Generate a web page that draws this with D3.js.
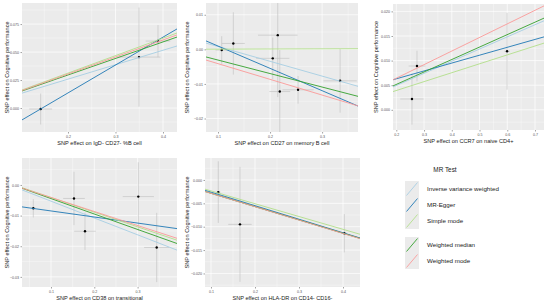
<!DOCTYPE html>
<html lang="en">
<head>
  <meta charset="UTF-8">
  <title>MR scatter plots</title>
  <style>
    body { margin: 0; background: #fff; }
    text { font-family: 'Liberation Sans', Arial, sans-serif; }
  </style>
</head>
<body>
  <svg id="svg" width="546" height="302"></svg>

  <script src="https://d3js.org/d3.v7.min.js"></script>
  <script>
    const methods = ['Inverse variance weighted', 'MR-Egger', 'Simple mode', 'Weighted median', 'Weighted mode']
    const methodColors = ['#a6cee3', '#1f78b4', '#b2df8a', '#33a02c', '#fb9a99']
    const yTitle = 'SNP effect on Cognitive performance'

    // SNP estimates: [beta exposure, beta outcome, se exposure, se outcome]
    const snpIgD = [[0.1425, -0.0009, 0.024, 0.0138], [0.3495, 0.0455, 0.045, 0.0442], [0.3895, 0.0598, 0.026, 0.0143]]
    const snpCD27 = [[0.1071, -0.0002, 0.012, 0.004], [0.1294, 0.0017, 0.022, 0.009], [0.2052, -0.0026, 0.032, 0.006],
      [0.2148, 0.0041, 0.038, 0.0179], [0.2187, -0.0122, 0.02, 0.012], [0.2538, -0.0117, 0.03, 0.004], [0.3346, -0.0091, 0.032, 0.0092]]
    const snpCCR7 = [[0.2745, 0.0089, 0.03, 0.0031], [0.2565, 0.0022, 0.042, 0.0052], [0.5993, 0.0119, 0.01, 0.0078]]
    const snpCD38 = [[0.0591, -0.0076, 0.005, 0.003], [0.1531, -0.0044, 0.025, 0.0087], [0.1785, -0.0151, 0.025, 0.0061],
      [0.3016, -0.0038, 0.036, 0.0112], [0.3441, -0.0204, 0.029, 0.0113]]
    const snpHLA = [[0.1166, -0.0026, 0.005, 0.0066], [0.1659, -0.0095, 0.0266, 0.0123], [0.403, -0.0114, 0.005, 0.0041]]

    // fitted lines per method (same order as methods): [slope, intercept]
    const fitIgD = [[0.129, 0], [0.249, -0.0363], [0.156, 0], [0.1476, 0], [0.152, 0]]
    const fitCD27 = [[-0.0428, 0.0051], [-0.0645, 0.0074], [0.0005, 0], [-0.039, 0.0008], [-0.0454, 0.0004]]
    const fitCCR7 = [[0.0247, 0], [0.016, 0.0031], [0.0181, 0.0003], [0.0253, 0.0001], [0.0276, 0.0009]]
    const fitCD38 = [[-0.0549, 0.0002], [-0.0198, -0.0065], [-0.0479, 0.0007], [-0.0504, 0.0006], [-0.0458, 0.0005]]
    const fitHLA = [[-0.0284, 0], [-0.029, 0.0003], [-0.0274, 0.0004], [-0.0285, 0], [-0.0286, 0]]

    const xTicksIgD = [0.2, 0.3, 0.4], yTicksIgD = [0, 0.025, 0.05, 0.075]
    const xTicksCD27 = [0.1, 0.2, 0.3], yTicksCD27 = [-0.02, -0.01, 0, 0.01]
    const xTicksCCR7 = [0.2, 0.3, 0.4, 0.5, 0.6, 0.7], yTicksCCR7 = [0, 0.005, 0.01, 0.015, 0.02]
    const xTicksCD38 = [0.1, 0.2, 0.3], yTicksCD38 = [-0.03, -0.02, -0.01, 0]
    const xTicksHLA = [0.1, 0.2, 0.3, 0.4], yTicksHLA = [-0.02, -0.015, -0.01, -0.005, 0]

    const panels = [
      { title: 'SNP effect on IgD- CD27- %B cell', snp: snpIgD, fit: fitIgD, xt: xTicksIgD, yt: yTicksIgD, xf: '.1f', yf: '.3f',
        xd: [0.1032, 0.4295], yd: [-0.0214, 0.0938], box: [22, 177, 3, 132], ytx: 7 },
      { title: 'SNP effect on CD27 on memory B cell', snp: snpCD27, fit: fitCD27, xt: xTicksCD27, yt: yTicksCD27, xf: '.1f', yf: '.2f',
        xd: [0.0769, 0.369], yd: [-0.0239, 0.0134], box: [206, 358, 3, 132], ytx: 187 },
      { title: 'SNP effect on CCR7 on naive CD4+', snp: snpCCR7, fit: fitCCR7, xt: xTicksCCR7, yt: yTicksCCR7, xf: '.1f', yf: '.3f',
        xd: [0.1881, 0.7324], yd: [-0.0041, 0.0215], box: [393, 544, 4, 130], ytx: 376 },
      { title: 'SNP effect on CD38 on transitional', snp: snpCD38, fit: fitCD38, xt: xTicksCD38, yt: yTicksCD38, xf: '.1f', yf: '.2f',
        xd: [0.033, 0.391], yd: [-0.0333, 0.0088], box: [22, 177, 158, 287], ytx: 7 },
      { title: 'SNP effect on HLA-DR on CD14- CD16-', snp: snpHLA, fit: fitHLA, xt: xTicksHLA, yt: yTicksHLA, xf: '.1f', yf: '.3f',
        xd: [0.0864, 0.4386], yd: [-0.0229, 0.0047], box: [205, 360, 158, 287], ytx: 187 }
    ]

    const svg = d3.select('#svg')

    function minors(ticks, dom) {
      const step = ticks.length > 1 ? ticks[1] - ticks[0] : 0.1
      const out = []
      for (let v = ticks[0] - step / 2; v <= dom[1]; v += step) {
        if (v >= dom[0]) out.push(v)
      }
      return out
    }

    panels.forEach((p, i) => {
      const [x0, x1, y0, y1] = p.box
      const x = d3.scaleLinear().domain(p.xd).range([x0, x1])
      const y = d3.scaleLinear().domain(p.yd).range([y1, y0])
      const g = svg.append('g')

      g.append('clipPath').attr('id', 'clip' + i)
        .append('rect').attr('x', x0).attr('y', y0).attr('width', x1 - x0).attr('height', y1 - y0)

      g.append('rect').attr('x', x0).attr('y', y0).attr('width', x1 - x0).attr('height', y1 - y0).attr('fill', '#ebebeb')

      // minor grid
      g.selectAll('.mx').data(minors(p.xt, p.xd)).enter().append('line')
        .attr('x1', d => x(d)).attr('x2', d => x(d)).attr('y1', y0).attr('y2', y1)
        .attr('stroke', '#fff').attr('stroke-width', 0.35)
      g.selectAll('.my').data(minors(p.yt, p.yd)).enter().append('line')
        .attr('x1', x0).attr('x2', x1).attr('y1', d => y(d)).attr('y2', d => y(d))
        .attr('stroke', '#fff').attr('stroke-width', 0.35)
      // major grid
      g.selectAll('.gx').data(p.xt).enter().append('line')
        .attr('x1', d => x(d)).attr('x2', d => x(d)).attr('y1', y0).attr('y2', y1)
        .attr('stroke', '#fff').attr('stroke-width', 0.7)
      g.selectAll('.gy').data(p.yt).enter().append('line')
        .attr('x1', x0).attr('x2', x1).attr('y1', d => y(d)).attr('y2', d => y(d))
        .attr('stroke', '#fff').attr('stroke-width', 0.7)

      // axes
      const xAxis = g.append('g').attr('transform', `translate(0,${y1})`)
        .call(d3.axisBottom(x).tickValues(p.xt).tickFormat(d3.format(p.xf)).tickSize(1.5).tickPadding(1.5))
      const yAxis = g.append('g').attr('transform', `translate(${x0},0)`)
        .call(d3.axisLeft(y).tickValues(p.yt).tickFormat(d3.format(p.yf)).tickSize(1.5).tickPadding(1.5))
      ;[xAxis, yAxis].forEach(a => {
        a.select('.domain').remove()
        a.selectAll('line').attr('stroke', '#444').attr('stroke-width', 0.5)
        a.selectAll('text').attr('fill', '#555').style('font-size', '3.6px')
      })

      const plot = g.append('g').attr('clip-path', `url(#clip${i})`)

      // error bars
      plot.selectAll('.ev').data(p.snp).enter().append('line')
        .attr('x1', d => x(d[0])).attr('x2', d => x(d[0]))
        .attr('y1', d => y(d[1] - d[3])).attr('y2', d => y(d[1] + d[3]))
        .attr('stroke', '#bebebe').attr('stroke-width', 0.6)
      plot.selectAll('.eh').data(p.snp).enter().append('line')
        .attr('x1', d => x(d[0] - d[2])).attr('x2', d => x(d[0] + d[2]))
        .attr('y1', d => y(d[1])).attr('y2', d => y(d[1]))
        .attr('stroke', '#bebebe').attr('stroke-width', 0.6)
      plot.selectAll('circle').data(p.snp).enter().append('circle')
        .attr('cx', d => x(d[0])).attr('cy', d => y(d[1])).attr('r', 1.2).attr('fill', '#000')

      // fitted lines
      plot.selectAll('.fit').data(p.fit).enter().append('line')
        .attr('x1', x0).attr('x2', x1)
        .attr('y1', d => y(d[1] + d[0] * p.xd[0]))
        .attr('y2', d => y(d[1] + d[0] * p.xd[1]))
        .attr('stroke', (d, j) => methodColors[j]).attr('stroke-width', 0.9)

      // titles
      g.append('text').attr('x', (x0 + x1) / 2).attr('y', y1 + 13)
        .attr('text-anchor', 'middle').style('font-size', '5.6px').attr('fill', '#1a1a1a').text(p.title)
      g.append('text').attr('transform', `translate(${p.ytx + 2},${(y0 + y1) / 2}) rotate(-90)`)
        .attr('text-anchor', 'middle').style('font-size', '5.6px').attr('fill', '#1a1a1a').text(yTitle)
    })

    // legend
    const leg = svg.append('g')
    leg.append('text').attr('x', 445).attr('y', 172).attr('text-anchor', 'middle')
      .style('font-size', '6.4px').attr('fill', '#1a1a1a').text('MR Test')
    const keyY = [181, 197, 213, 237, 253]
    methods.forEach((m, j) => {
      const ky = keyY[j]
      leg.append('rect').attr('x', 405).attr('y', ky).attr('width', 14).attr('height', 16).attr('fill', '#ebebeb')
      leg.append('line').attr('x1', 406.5).attr('y1', ky + 14.5).attr('x2', 417.5).attr('y2', ky + 1.5)
        .attr('stroke', methodColors[j]).attr('stroke-width', 0.9)
      leg.append('text').attr('x', 427).attr('y', ky + 10).style('font-size', '6.2px').attr('fill', '#1a1a1a').text(m)
    })
  </script>
</body>
</html>
